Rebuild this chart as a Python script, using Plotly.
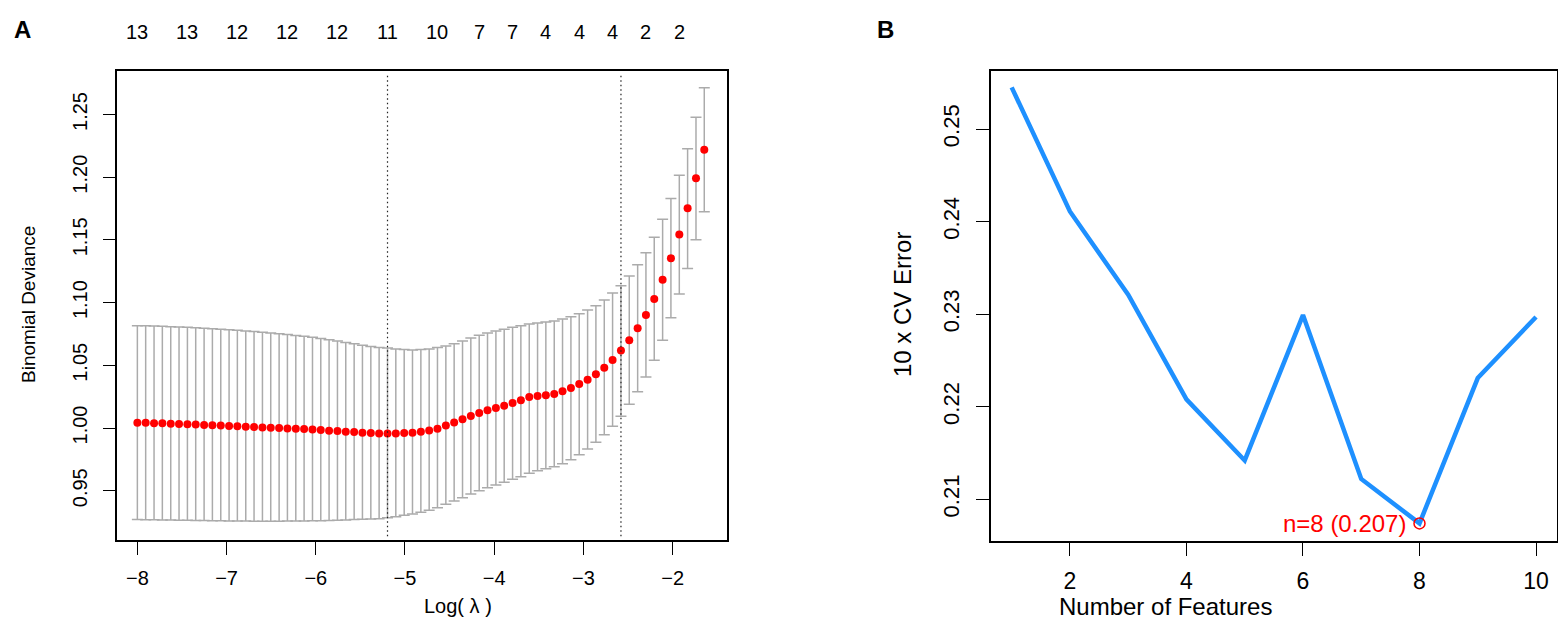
import plotly.graph_objects as go

# Panel A: cv.glmnet binomial deviance vs log(lambda)
log_lambda = [
    -8.000, -7.907, -7.813, -7.720, -7.626, -7.533, -7.439, -7.346, -7.252, -7.159,
    -7.065, -6.972, -6.879, -6.785, -6.692, -6.598, -6.505, -6.411, -6.318, -6.224,
    -6.131, -6.037, -5.944, -5.851, -5.757, -5.664, -5.570, -5.477, -5.383, -5.290,
    -5.196, -5.103, -5.009, -4.916, -4.822, -4.729, -4.636, -4.542, -4.449, -4.355,
    -4.262, -4.168, -4.075, -3.981, -3.888, -3.794, -3.701, -3.607, -3.514, -3.421,
    -3.327, -3.234, -3.140, -3.047, -2.953, -2.860, -2.766, -2.673, -2.579, -2.486,
    -2.392, -2.299, -2.206, -2.112, -2.019, -1.925, -1.832, -1.738, -1.645,
]
cv_mean = [
    1.0042, 1.0042, 1.0037, 1.0037, 1.0034, 1.0032, 1.0029, 1.0027, 1.0024, 1.0021,
    1.0019, 1.0016, 1.0013, 1.0011, 1.0008, 1.0005, 1.0003, 1.0000, 0.9997, 0.9995,
    0.9992, 0.9989, 0.9984, 0.9979, 0.9976, 0.9971, 0.9968, 0.9963, 0.9960, 0.9957,
    0.9956, 0.9957, 0.9960, 0.9963, 0.9971, 0.9981, 0.9995, 1.0019, 1.0043, 1.0069,
    1.0096, 1.0120, 1.0141, 1.0159, 1.0178, 1.0199, 1.0221, 1.0247, 1.0255, 1.0261,
    1.0271, 1.0294, 1.0319, 1.0351, 1.0385, 1.0428, 1.0481, 1.0542, 1.0617, 1.0699,
    1.0795, 1.0901, 1.1029, 1.1183, 1.1353, 1.1542, 1.1752, 1.1991, 1.2219,
]
cv_upper = [
    1.0816, 1.0815, 1.0813, 1.0811, 1.0808, 1.0806, 1.0803, 1.0800, 1.0796, 1.0792,
    1.0788, 1.0784, 1.0779, 1.0774, 1.0769, 1.0764, 1.0758, 1.0752, 1.0745, 1.0738,
    1.0731, 1.0724, 1.0714, 1.0703, 1.0693, 1.0682, 1.0671, 1.0660, 1.0650, 1.0641,
    1.0638, 1.0630, 1.0625, 1.0622, 1.0625, 1.0630, 1.0641, 1.0654, 1.0672, 1.0694,
    1.0718, 1.0739, 1.0758, 1.0774, 1.0787, 1.0803, 1.0816, 1.0829, 1.0837, 1.0845,
    1.0853, 1.0870, 1.0888, 1.0912, 1.0941, 1.0975, 1.1021, 1.1077, 1.1135, 1.1212,
    1.1302, 1.1398, 1.1521, 1.1664, 1.1829, 1.2015, 1.2227, 1.2478, 1.2714,
]
cv_lower = [
    0.9270, 0.9269, 0.9268, 0.9267, 0.9266, 0.9265, 0.9264, 0.9263, 0.9262, 0.9261,
    0.9260, 0.9259, 0.9258, 0.9258, 0.9257, 0.9257, 0.9257, 0.9257, 0.9258, 0.9258,
    0.9259, 0.9260, 0.9261, 0.9263, 0.9265, 0.9267, 0.9270, 0.9272, 0.9275, 0.9277,
    0.9285, 0.9293, 0.9304, 0.9314, 0.9328, 0.9344, 0.9365, 0.9392, 0.9418, 0.9444,
    0.9474, 0.9500, 0.9524, 0.9545, 0.9567, 0.9591, 0.9612, 0.9639, 0.9660, 0.9676,
    0.9691, 0.9715, 0.9746, 0.9787, 0.9833, 0.9886, 0.9947, 1.0013, 1.0093, 1.0189,
    1.0290, 1.0407, 1.0540, 1.0699, 1.0880, 1.1069, 1.1271, 1.1502, 1.1725,
]
# number of non-zero coefficients shown along the top (point index, label)
nz_index = [0, 6, 12, 18, 24, 30, 36, 41, 45, 49, 53, 57, 61, 65]
nz_labels = ["13", "13", "12", "12", "12", "11", "10", "7", "7", "4", "4", "4", "2", "2"]
idx_min = 30   # lambda.min
idx_1se = 58   # lambda.1se

# Panel B: CV error vs number of features
n_features = [1, 2, 3, 4, 5, 6, 7, 8, 9, 10]
cv_error = [0.2545, 0.2411, 0.2321, 0.2208, 0.2142, 0.2299, 0.2122, 0.2074, 0.2231, 0.2297]
best_n = 8

FONT = "Liberation Sans, Arial, Helvetica, sans-serif"
W, H = 1558, 619


def px_x(p):
    return p / W


def px_y(p):
    return 1 - p / H


fig = go.Figure()

err_plus = [u - m for u, m in zip(cv_upper, cv_mean)]
err_minus = [m - l for m, l in zip(cv_mean, cv_lower)]

fig.add_trace(go.Scatter(
    x=log_lambda, y=cv_mean, mode="markers",
    marker=dict(color="#FF0000", size=8),
    error_y=dict(type="data", symmetric=False, array=err_plus, arrayminus=err_minus,
                 color="#ABABAB", thickness=1.5, width=5.5),
    xaxis="x", yaxis="y", showlegend=False, hoverinfo="skip",
))

fig.add_trace(go.Scatter(
    x=n_features, y=cv_error, mode="lines",
    line=dict(color="#1E90FF", width=4.5),
    xaxis="x2", yaxis="y2", showlegend=False,
))
fig.add_trace(go.Scatter(
    x=[n_features[best_n - 1]], y=[cv_error[best_n - 1]], mode="markers",
    marker=dict(symbol="circle-open", color="#FF0000", size=11, line=dict(width=1.5)),
    xaxis="x2", yaxis="y2", showlegend=False,
))

# dotted reference lines at lambda.min and lambda.1se
for i in (idx_min, idx_1se):
    fig.add_shape(type="line", xref="x", yref="y domain",
                  x0=log_lambda[i], x1=log_lambda[i], y0=0.008, y1=0.992,
                  line=dict(color="#222222", width=1.2, dash="1.5px,3px"))

ann = []
for i, lab in zip(nz_index, nz_labels):
    ann.append(dict(x=log_lambda[i], y=px_y(32), xref="x", yref="paper", text=lab,
                    showarrow=False, font=dict(size=20), xanchor="center", yanchor="middle"))

ann += [
    dict(x=px_x(422), y=px_y(606), xref="paper", yref="paper", text="Log( λ )",
         showarrow=False, font=dict(size=20), yanchor="middle"),
    dict(x=px_x(29), y=px_y(305), xref="paper", yref="paper", text="Binomial Deviance",
         showarrow=False, textangle=-90, font=dict(size=19), xanchor="center"),
    dict(x=px_x(1274), y=px_y(606), xref="paper", yref="paper", text="Number of Features",
         showarrow=False, font=dict(size=24), yanchor="middle"),
    dict(x=px_x(903), y=px_y(305), xref="paper", yref="paper", text="10 x CV Error",
         showarrow=False, textangle=-90, font=dict(size=24), xanchor="center"),
    dict(x=n_features[best_n - 1], y=cv_error[best_n - 1], xref="x2", yref="y2",
         text=f"n={best_n} ({cv_error[best_n - 1]:.3f})", showarrow=False,
         font=dict(size=24, color="#FF0000"), xanchor="right", yanchor="middle", xshift=-12),
    dict(x=px_x(12), y=px_y(14), xref="paper", yref="paper", text="<b>A</b>",
         showarrow=False, font=dict(size=24)),
    dict(x=px_x(886), y=px_y(14), xref="paper", yref="paper", text="<b>B</b>",
         showarrow=False, font=dict(size=24)),
]

axis_common = dict(showline=True, mirror=True, linecolor="black", linewidth=1.5,
                   showgrid=False, zeroline=False, ticks="outside", ticklen=13,
                   tickwidth=1.3, tickcolor="black")

fig.update_layout(
    width=W, height=H,
    margin=dict(l=0, r=0, t=0, b=0),
    paper_bgcolor="white", plot_bgcolor="white",
    font=dict(family=FONT, color="black"),
    xaxis=dict(domain=[px_x(117.3), px_x(727.3)], range=[-8.225, -1.387],
               tickvals=[-8, -7, -6, -5, -4, -3, -2], tickfont=dict(size=20),
               ticklabelstandoff=6, anchor="y", **axis_common),
    yaxis=dict(domain=[px_y(540), px_y(70.7)], range=[0.9107, 1.2849],
               tickvals=[0.95, 1.00, 1.05, 1.10, 1.15, 1.20, 1.25], tickformat=".2f",
               tickangle=-90, tickfont=dict(size=20), ticklabelstandoff=8,
               anchor="x", **axis_common),
    xaxis2=dict(domain=[px_x(990.7), px_x(1557)], range=[0.64, 10.36],
                tickvals=[2, 4, 6, 8, 10], tickfont=dict(size=23),
                ticklabelstandoff=6, anchor="y2", **axis_common),
    yaxis2=dict(domain=[px_y(541), px_y(70.7)], range=[0.2055, 0.2563],
                tickvals=[0.21, 0.22, 0.23, 0.24, 0.25], tickformat=".2f",
                tickangle=-90, tickfont=dict(size=22), ticklabelstandoff=8,
                anchor="x2", **axis_common),
    annotations=ann,
)

# the page's default body margin would push the figure 8px right and down
fig.write_html("out.html", config={"displayModeBar": False},
               post_script="document.body.style.margin = '0px';")
